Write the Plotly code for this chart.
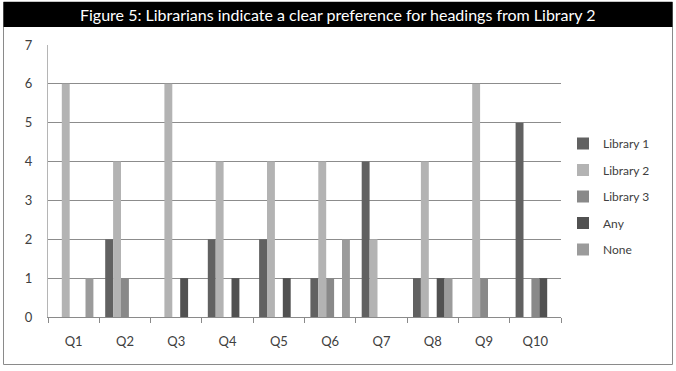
import plotly.graph_objects as go

categories = ["Q1", "Q2", "Q3", "Q4", "Q5", "Q6", "Q7", "Q8", "Q9", "Q10"]
library1 = [0, 2, 0, 2, 2, 1, 4, 1, 0, 5]
library2 = [6, 4, 6, 4, 4, 4, 2, 4, 6, 0]
library3 = [0, 1, 0, 0, 0, 1, 0, 0, 1, 1]
any_lib = [0, 0, 1, 1, 1, 0, 0, 1, 0, 1]
none_lib = [1, 0, 0, 0, 0, 2, 0, 1, 0, 0]
y_ticks = [0, 1, 2, 3, 4, 5, 6, 7]
title_text = "Figure 5: Librarians indicate a clear preference for headings from Library 2"

series = [
    ("Library 1", library1, "#616161"),
    ("Library 2", library2, "#b3b3b3"),
    ("Library 3", library3, "#898989"),
    ("Any", any_lib, "#515151"),
    ("None", none_lib, "#9b9b9b"),
]

FONT = "Lato, 'Open Sans', sans-serif"
W, H = 676, 371
L, R, T, B = 48, 115, 45, 54
pw, ph = W - L - R, H - T - B

def px(x):
    return (x - L) / pw

def py(y):
    return (H - B - y) / ph

fig = go.Figure()
for i, (name, vals, col) in enumerate(series):
    fig.add_trace(go.Bar(x=categories, y=vals, name=name, marker_color=col,
                         marker_line_width=0, legendgroup=f"g{i}"))

fig.update_layout(
    width=W, height=H,
    margin=dict(l=L, r=R, t=T, b=B, pad=0, autoexpand=False),
    paper_bgcolor="white", plot_bgcolor="white",
    barmode="group", bargap=0.23, bargroupgap=0,
    font=dict(family=FONT, size=13, color="#404040"),
    showlegend=True,
    legend=dict(x=px(563), y=py(129), xanchor="left", yanchor="top",
                font=dict(size=12, color="#404040"), tracegroupgap=7.5,
                itemwidth=30, bgcolor="rgba(0,0,0,0)"),
    xaxis=dict(showgrid=False, showline=True, linecolor="#8a8a8a", linewidth=1,
               ticks="outside", tickson="boundaries", ticklen=5, tickcolor="#8a8a8a",
               ticklabelstandoff=12,
               tickfont=dict(size=13, color="#404040")),
    yaxis=dict(range=[0, 7], tickvals=y_ticks, showgrid=True, gridcolor="#8c8c8c",
               gridwidth=1, showline=True, linecolor="#b5b5b5", linewidth=1,
               zeroline=False, ticks="", ticklabelstandoff=12,
               tickfont=dict(size=13, color="#404040")),
    shapes=[
        dict(type="rect", xref="paper", yref="paper", x0=px(3.5), x1=px(672.5),
             y0=py(364.5), y1=py(2), line=dict(color="#8a8a8a", width=1), layer="below"),
        dict(type="rect", xref="paper", yref="paper", x0=px(3.5), x1=px(672.5),
             y0=py(27), y1=py(2), fillcolor="black", line=dict(width=0), layer="below"),
    ],
    annotations=[
        dict(text=title_text, xref="paper", yref="paper", x=px(338), y=py(15),
             xanchor="center", yanchor="middle", showarrow=False,
             font=dict(family=FONT, size=16, color="white")),
    ],
)

fig.write_html("out.html")
